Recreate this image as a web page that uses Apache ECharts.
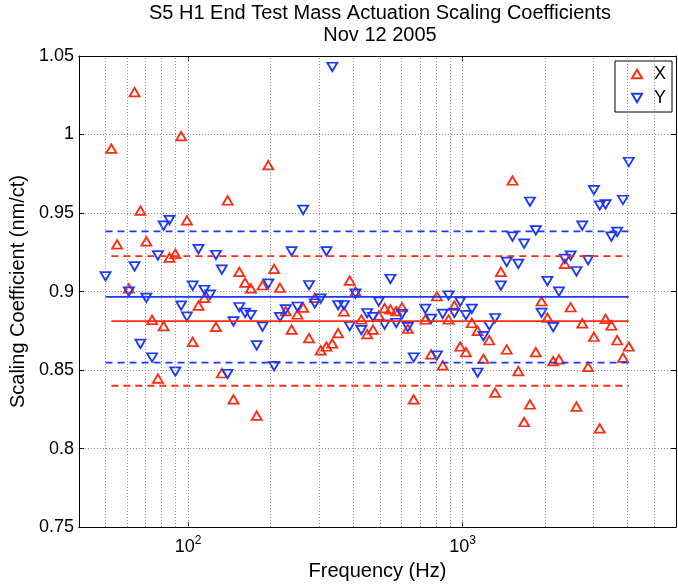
<!DOCTYPE html>
<html>
<head>
<meta charset="utf-8">
<script src="https://cdn.jsdelivr.net/npm/echarts@6/dist/echarts.min.js"></script>
<style>
html, body { margin: 0; padding: 0; background: #fff; }
#main { width: 678px; height: 586px; }
</style>
</head>
<body>
<div id="main"></div>
<script>
// frequencies (Hz), one per measurement
var freqs = [
    50.0, 52.5, 55.1, 57.9, 60.8, 63.8, 67.0, 70.4, 73.9, 77.6,
    81.4, 85.5, 89.8, 94.3, 99.0, 103.9, 109.1, 114.6, 120.3, 126.3,
    132.7, 139.3, 146.3, 153.6, 161.3, 169.3, 177.8, 186.7, 196.0, 205.8,
    216.1, 226.9, 238.3, 250.2, 262.7, 275.8, 289.6, 304.1, 319.3, 335.3,
    352.0, 369.6, 388.1, 407.5, 427.9, 449.3, 471.7, 495.3, 520.1, 546.1,
    573.4, 602.0, 632.1, 663.8, 697.0, 731.8, 768.4, 806.8, 847.2, 889.5,
    934.0, 980.7, 1029.7, 1081.2, 1135.3, 1192.0, 1251.6, 1314.2, 1379.9, 1448.9,
    1521.3, 1597.4, 1677.3, 1761.1, 1849.2, 1941.6, 2038.7, 2140.7, 2247.7, 2360.1,
    2478.1, 2602.0, 2732.1, 2868.7, 3012.2, 3162.8, 3320.9, 3487.0, 3661.3, 3844.4,
    4036.6
];

// X coefficients (nm/ct), null = not on the plot
var xCoef = [
    null, 0.991, 0.930, null, 0.902, 1.027, 0.9515, 0.932, 0.882, 0.8445,
    0.878, 0.9216, 0.924, 0.999, 0.9453, 0.868, 0.891, 0.896, null, 0.8775,
    0.848, 0.958, 0.8313, 0.9125, 0.9057, 0.902, 0.821, 0.904, 0.9805, 0.9144,
    0.9024, 0.8875, 0.8758, 0.8854, 0.8898, 0.8703, 0.896, 0.8625, 0.865, 0.8669,
    0.8735, 0.8873, 0.907, 0.900, 0.8822, 0.8729, 0.8758, 0.8848, 0.8894, 0.8886,
    0.8875, 0.890, 0.8763, 0.8313, null, 0.8822, 0.860, 0.897, 0.853, 0.8822,
    0.891, 0.865, 0.8614, 0.880, 0.875, 0.8572, 0.869, 0.8356, 0.9125, 0.8631,
    0.9707, 0.8493, 0.8169, 0.8281, 0.8614, 0.8938, 0.8833, 0.8557, 0.8568, 0.9176,
    0.890, 0.8267, 0.8797, 0.852, 0.8712, 0.8129, 0.8826, 0.8784, 0.869, 0.8579,
    0.865
];

// Y coefficients (nm/ct)
var yCoef = [
    0.9097, null, null, null, 0.900, 0.916, 0.8667, 0.896, 0.858, 0.923,
    0.942, 0.9455, 0.849, 0.891, 0.884, 0.9038, 0.927, 0.901, 0.898, 0.9233,
    0.914, 0.8475, 0.881, 0.890, 0.8864, 0.885, 0.8657, 0.8777, 0.905, 0.8525,
    0.8837, 0.8886, 0.9256, 0.8903, 0.952, 0.904, 0.8924, 0.8955, 0.9256, 1.043,
    0.8913, 0.8913, 0.878, 0.8987, 0.8754, 0.8862, 0.8837, 0.8936, 0.879, 0.908,
    0.880, 0.8856, 0.8773, 0.858, null, 0.889, 0.8826, 0.8593, 0.8858, 0.8975,
    0.8864, 0.8936, 0.885, 0.889, 0.8483, 0.8716, 0.8784, 0.883, 0.9038, 0.9189,
    0.935, 0.9176, 0.9305, 0.9572, 0.939, 0.8864, 0.9066, 0.8773, 0.900, 0.9208,
    0.9229, 0.9129, 0.942, 0.920, 0.9646, 0.9548, 0.9555, 0.935, 0.938, 0.9583,
    0.9825
];

// mean and +/- 1 sigma levels
var xLevels = [0.8812, 0.9225, 0.8400];
var yLevels = [0.8966, 0.9383, 0.8548];

// vertical grid lines of the log axis
var gridFreqs = [50, 60, 70, 80, 90, 100, 200, 300, 400, 500, 600, 700, 800, 900,
    1000, 2000, 3000, 4000, 5000];

var FONT = '"Liberation Sans", Arial, Helvetica, sans-serif';
var RED = '#ff2a10';
var BLUE = '#1a38ff';
var UP = 'path://M5,0L10,8.66L0,8.66Z';
var DOWN = 'path://M0,0L10,0L5,8.66Z';

function pairs(vals) {
    var out = [];
    vals.forEach(function (v, i) {
        if (v !== null) out.push([freqs[i], v]);
    });
    return out;
}

function span(vals) {
    var first = -1, last = -1;
    vals.forEach(function (v, i) {
        if (v !== null) { if (first < 0) first = i; last = i; }
    });
    return [freqs[first], freqs[last]];
}

function levelLine(vals, level, color, dashed) {
    var s = span(vals);
    return {
        type: 'line',
        data: [[s[0], level], [s[1], level]],
        symbol: 'none',
        silent: true,
        z: 4,
        lineStyle: { color: color, width: 1.8, type: dashed ? [7, 5] : 'solid', opacity: 1 }
    };
}

var myChart = echarts.init(document.getElementById('main'));

var axisCommon = {
    axisLine: { show: true, lineStyle: { color: '#000', width: 1 } },
    axisTick: { show: true, inside: true, length: 5, lineStyle: { color: '#000' } }
};

var option = {
    animation: false,
    backgroundColor: '#fff',
    title: {
        text: 'S5 H1 End Test Mass Actuation Scaling Coefficients\nNov 12 2005',
        left: 375,
        top: -3,
        textAlign: 'center',
        textStyle: { fontSize: 20, fontWeight: 'normal', lineHeight: 22, color: '#000', fontFamily: FONT }
    },
    legend: {
        data: [{ name: 'X', icon: UP }, { name: 'Y', icon: DOWN }],
        orient: 'vertical',
        left: 615,
        top: 61,
        itemWidth: 10,
        itemHeight: 8.66,
        itemGap: 6,
        padding: [4, 6, 5, 16],
        backgroundColor: '#fff',
        borderColor: '#000',
        borderWidth: 1,
        borderRadius: 0,
        selectedMode: false,
        textStyle: { fontSize: 18, color: '#000', fontFamily: FONT, padding: [0, 0, 0, 7] }
    },
    grid: { left: 75, right: 2, top: 56, bottom: 58, containLabel: false },
    xAxis: [
        Object.assign({
            type: 'log',
            logBase: 10,
            min: 40,
            max: 6000,
            name: 'Frequency (Hz)',
            nameLocation: 'middle',
            nameGap: 30,
            nameTextStyle: { fontSize: 20, color: '#000', fontFamily: FONT },
            axisLabel: {
                color: '#000',
                fontSize: 18,
                fontFamily: FONT,
                margin: 8,
                showMinLabel: false,
                showMaxLabel: false,
                formatter: function (v) {
                    var p = Math.log(v) / Math.LN10;
                    if (Math.abs(p - Math.round(p)) < 1e-6) return '10{sup|' + Math.round(p) + '}';
                    return '';
                },
                rich: {
                    sup: { fontSize: 12, fontFamily: FONT, color: '#000', padding: [0, 0, 12, 0] }
                }
            },
            splitLine: { show: false }
        }, axisCommon),
        Object.assign({
            type: 'log',
            logBase: 10,
            min: 40,
            max: 6000,
            position: 'top',
            axisLabel: { show: false },
            splitLine: { show: false }
        }, axisCommon)
    ],
    yAxis: [
        Object.assign({
            type: 'value',
            min: 0.75,
            max: 1.05,
            interval: 0.05,
            name: 'Scaling Coefficient (nm/ct)',
            nameLocation: 'middle',
            nameGap: 45,
            nameTextStyle: { fontSize: 20, color: '#000', fontFamily: FONT },
            axisLabel: {
                color: '#000',
                fontSize: 18,
                fontFamily: FONT,
                margin: 5,
                formatter: function (v) { return String(+v.toFixed(2)); }
            },
            splitLine: { show: true, lineStyle: { color: '#8a8a8a', width: 1, type: [1, 2] } }
        }, axisCommon),
        Object.assign({
            type: 'value',
            min: 0.75,
            max: 1.05,
            interval: 0.05,
            position: 'right',
            axisLabel: { show: false },
            splitLine: { show: false }
        }, axisCommon)
    ],
    series: [
        {
            name: 'grid',
            type: 'line',
            data: [],
            silent: true,
            z: 1,
            markLine: {
                silent: true,
                symbol: 'none',
                animation: false,
                label: { show: false },
                lineStyle: { color: '#8a8a8a', width: 1, type: [1, 2] },
                data: gridFreqs.map(function (f) { return { xAxis: f }; })
            }
        },
        {
            name: 'X',
            type: 'scatter',
            data: pairs(xCoef),
            symbol: UP,
            symbolSize: [10, 8.5],
            z: 3,
            itemStyle: { color: 'rgba(255,255,255,0)', borderColor: RED, borderWidth: 1.8, opacity: 1 }
        },
        {
            name: 'Y',
            type: 'scatter',
            data: pairs(yCoef),
            symbol: DOWN,
            symbolSize: [10, 8.5],
            z: 3,
            itemStyle: { color: 'rgba(255,255,255,0)', borderColor: BLUE, borderWidth: 1.8, opacity: 1 }
        },
        levelLine(xCoef, xLevels[0], RED, false),
        levelLine(xCoef, xLevels[1], RED, true),
        levelLine(xCoef, xLevels[2], RED, true),
        levelLine(yCoef, yLevels[0], BLUE, false),
        levelLine(yCoef, yLevels[1], BLUE, true),
        levelLine(yCoef, yLevels[2], BLUE, true)
    ]
};

myChart.setOption(option);
</script>
</body>
</html>
